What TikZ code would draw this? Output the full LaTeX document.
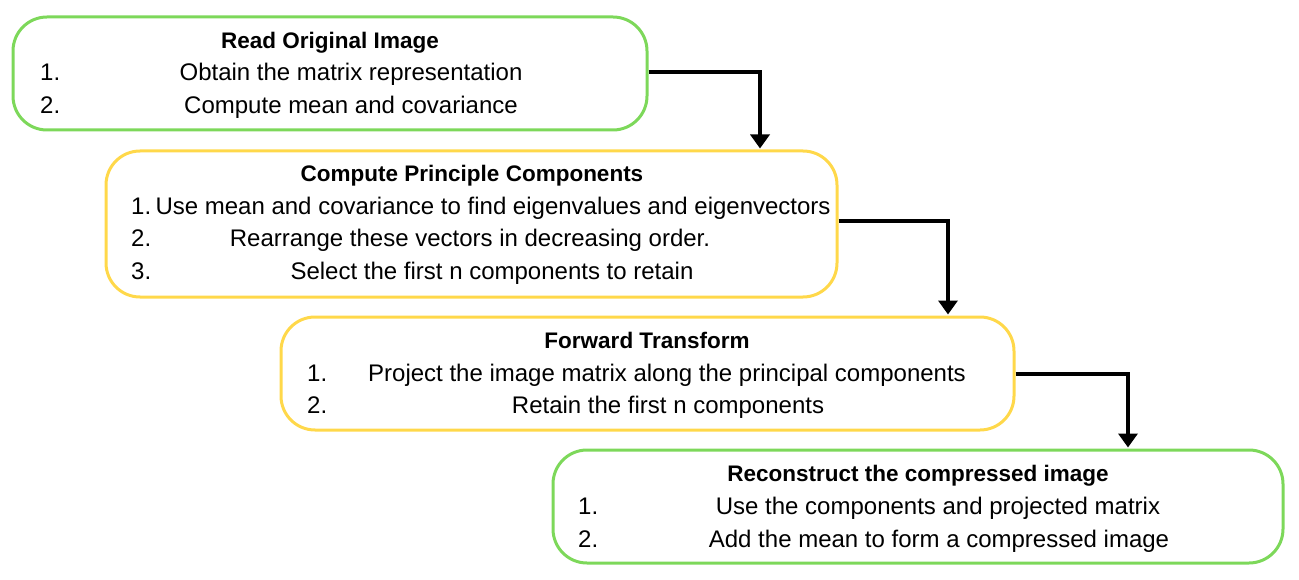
\documentclass[tikz,border=0pt]{standalone}
\usepackage{fontspec}
\setmainfont{Liberation Sans}
\usetikzlibrary{arrows.meta}
\definecolor{boxgreen}{HTML}{7DD85A}
\definecolor{boxyellow}{HTML}{FFD84A}
\tikzset{
  flowbox/.style={draw, line width=3pt, rounded corners=34pt, inner sep=0pt},
  greenbox/.style={flowbox, draw=boxgreen},
  yellowbox/.style={flowbox, draw=boxyellow},
  titletext/.style={anchor=base, inner sep=0pt, font=\fontsize{22.5}{26}\selectfont\bfseries},
  itemtext/.style={anchor=base, inner sep=0pt, font=\fontsize{24}{27}\selectfont},
  numtext/.style={anchor=base west, inner sep=0pt, font=\fontsize{24}{27}\selectfont},
  conn/.style={draw=black, line width=4pt, -{Triangle[width=19pt,length=14pt]}, shorten >=1pt}
}
\begin{document}
\begin{tikzpicture}[x=1pt,y=-1pt]
\useasboundingbox (0,0) rectangle (1299,580);
% boxes
\node[greenbox, minimum width=634pt, minimum height=113pt] (b1) at (330,73.5) {};
\node[yellowbox, minimum width=731pt, minimum height=146pt] (b2) at (471.5,224) {};
\node[yellowbox, minimum width=733pt, minimum height=113pt] (b3) at (647.5,373.5) {};
\node[greenbox, minimum width=730pt, minimum height=113pt] (b4) at (918,506.5) {};
% box 1 text
\node[titletext] (t1) at (330,48.5) {Read Original Image};
\node[numtext] (n11) at (40,81) {1.};
\node[itemtext] (i11) at (351,81) {Obtain the matrix representation};
\node[numtext] (n12) at (40,113.5) {2.};
\node[itemtext] (i12) at (351,113.5) {Compute mean and covariance};
% box 2 text
\node[titletext] (t2) at (472,181.5) {Compute Principle Components};
\node[numtext] (n21) at (131,214.5) {1.\hspace{0.18em}Use mean and covariance to find eigenvalues and eigenvectors};
\node[numtext] (n22) at (131,247) {2.};
\node[itemtext] (i22) at (470,247) {Rearrange these vectors in decreasing order.};
\node[numtext] (n23) at (131,279.5) {3.};
\node[itemtext] (i23) at (492,279.5) {Select the first n components to retain};
% box 3 text
\node[titletext] (t3) at (647,348.5) {Forward Transform};
\node[numtext] (n31) at (307,381) {1.};
\node[itemtext] (i31) at (667,381) {Project the image matrix along the principal components};
\node[numtext] (n32) at (307,413.5) {2.};
\node[itemtext] (i32) at (668,413.5) {Retain the first n components};
% box 4 text
\node[titletext] (t4) at (918,481.5) {Reconstruct the compressed image};
\node[numtext] (n41) at (578,514.5) {1.};
\node[itemtext] (i41) at (938,514.5) {Use the components and projected matrix};
\node[numtext] (n42) at (578,547) {2.};
\node[itemtext] (i42) at (939,547) {Add the mean to form a compressed image};
% connectors
\draw[conn] ([yshift=1.5pt]b1.east) -| ([xshift=288.5pt]b2.north);
\draw[conn] ([yshift=3pt]b2.east) -| ([xshift=300.5pt]b3.north);
\draw[conn] (b3.east) -| ([xshift=210pt]b4.north);
\end{tikzpicture}
\end{document}
